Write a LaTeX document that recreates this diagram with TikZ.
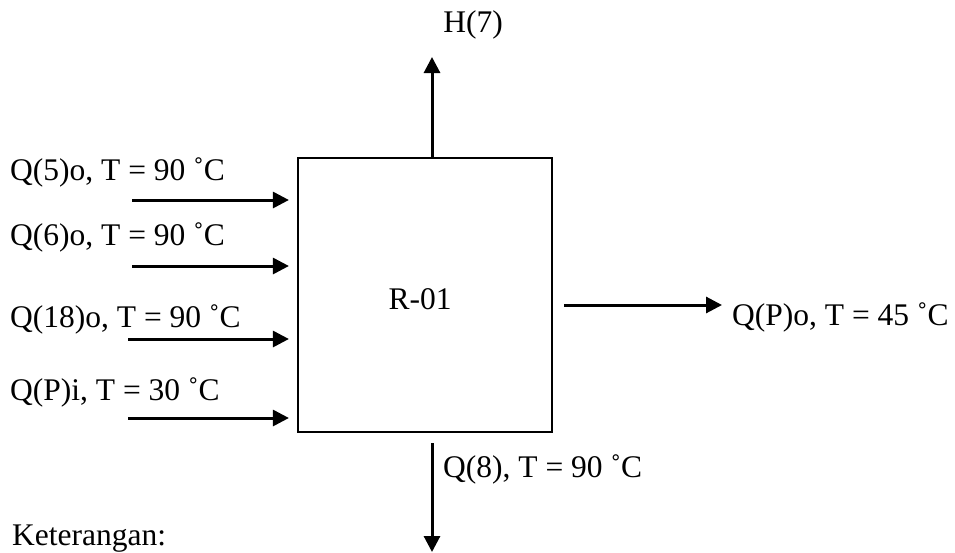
\documentclass[tikz,border=0pt]{standalone}
\usepackage{fontspec}
\setmainfont{Liberation Serif}
\usetikzlibrary{arrows.meta, positioning, calc}
\tikzset{
  >=Stealth,
  flowarrow/.style={-{Triangle[length=16pt, width=16pt]}, line width=3pt, black},
  lbl/.style={font=\fontsize{31.5}{36}\selectfont, inner sep=0pt, anchor=base west}
}

\begin{document}
\begin{tikzpicture}[
    x=1pt, y=-1pt,
    reactor/.style={rectangle, draw=black, line width=2.2pt, minimum width=254pt, minimum height=274pt, inner sep=0pt}
]
    \useasboundingbox (0,0) rectangle (955,552);

    % Reactor
    \node[reactor] (r01) at (425,295) {};
    \node[lbl, anchor=base] (r01lbl) at (420,309) {R-01};

    % Feed streams
    \node[lbl] (q5) at (10,180) {Q(5)o, T = 90 ˚C};
    \node[lbl] (q6) at (10,245) {Q(6)o, T = 90 ˚C};
    \node[lbl] (q18) at (10,327) {Q(18)o, T = 90 ˚C};
    \node[lbl] (qpi) at (10,400) {Q(P)i, T = 30 ˚C};
    \coordinate (in5) at (132,200);
    \coordinate (in6) at (132,266);
    \coordinate (in18) at (128,339);
    \coordinate (inpi) at (128,418);

    % Product and vent streams
    \node[lbl] (qpo) at (732,325) {Q(P)o, T = 45 ˚C};
    \coordinate (outp) at (722,305);
    \node[lbl, anchor=base] (h7) at (473,32) {H(7)};
    \coordinate (outh) at (432,57);
    \node[lbl] (q8) at (443,477) {Q(8), T = 90 ˚C};
    \coordinate (out8) at (432,552);
    \node[lbl] (ket) at (12,545) {Keterangan:};

    % Arrows
    \draw[flowarrow, shorten >=8pt] (in5) -- (in5 -| r01.west);
    \draw[flowarrow, shorten >=8pt] (in6) -- (in6 -| r01.west);
    \draw[flowarrow, shorten >=8pt] (in18) -- (in18 -| r01.west);
    \draw[flowarrow, shorten >=8pt] (inpi) -- (inpi -| r01.west);
    \draw[flowarrow, shorten <=11pt] (outp -| r01.east) -- (outp);
    \draw[flowarrow] (outh |- r01.north) -- (outh);
    \draw[flowarrow, shorten <=10pt] (out8 |- r01.south) -- (out8);
\end{tikzpicture}
\end{document}
